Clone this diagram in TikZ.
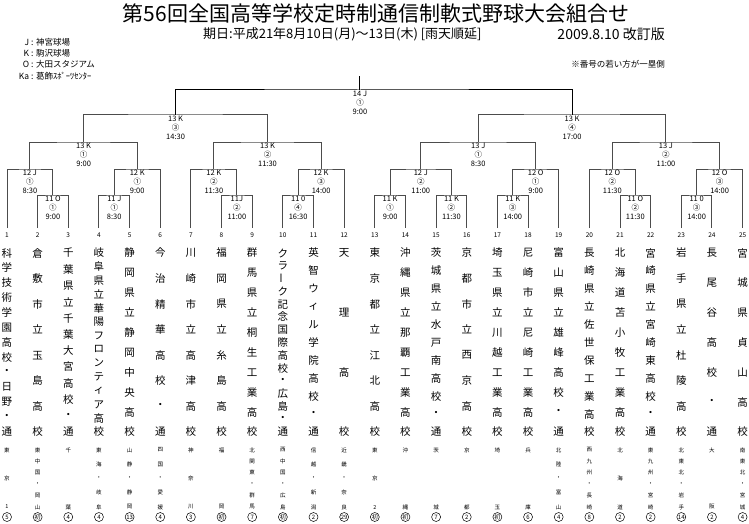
\documentclass[tikz,border=0pt]{standalone}
\usepackage{fontspec}
\usepackage{graphicx}
\setmainfont{Noto Sans CJK JP}
\newcommand\vbarchar{\rotatebox{90}{ー}}
\tikzset{
  br/.style={line width=1pt, draw=black!70},
  mlabel/.style={anchor=north, align=center, font=\fontsize{7.5}{9}\selectfont, inner sep=0pt, yshift=-1pt},
  school/.style={font=\fontsize{10.5}{11}\selectfont, inner sep=0pt},
  region/.style={font=\fontsize{5.5}{6}\selectfont, inner sep=0pt},
  seed/.style={circle, draw, line width=0.5pt, inner sep=0pt, minimum size=9pt, font=\fontsize{6}{6}\selectfont},
  numlab/.style={font=\fontsize{6.5}{7}\selectfont, inner sep=0pt},
  legend/.style={anchor=west, font=\fontsize{8.5}{9}\selectfont, inner sep=0pt},
}
\newcommand\vcol[3]{%
  \foreach \c [count=\k] in {#3} {
    \node[school] (s#1-\k) at ({7+(#1-1)*30.65},{253+(\k-1)*179/(#2-1)}) {\c};
  }}
\newcommand\vreg[3]{%
  \foreach \c [count=\k] in {#3} {
    \node[region] (r#1-\k) at ({7+(#1-1)*30.65},{450+(\k-1)*57/(#2-1)}) {\c};
  }}
\begin{document}
\begin{tikzpicture}[x=1pt,y=-1pt]
\useasboundingbox (0,0) rectangle (749,524);
\fill[white] (0,0) rectangle (749,524);

% header
\node[font=\fontsize{21}{21}\selectfont, inner sep=0pt] (title) at (376,14) {第56回全国高等学校定時制通信制軟式野球大会組合せ};
\node[font=\fontsize{13}{13}\selectfont, anchor=west, inner sep=0pt] (period) at (203,34) {期日:平成21年8月10日(月)～13日(木)\ [雨天順延]};
\node[font=\fontsize{14}{14}\selectfont, anchor=east, inner sep=0pt] (rev) at (665,34) {2009.8.10 改訂版};
\node[legend] (lj) at (12,42) {\makebox[17pt][r]{J} : 神宮球場};
\node[legend] (lk) at (12,53) {\makebox[17pt][r]{K} : 駒沢球場};
\node[legend] (lo) at (12,64) {\makebox[17pt][r]{O} : 大田スタジアム};
\node[legend] (lka) at (12,76) {\makebox[17pt][r]{Ka} : 葛飾ｽﾎﾟｰﾂｾﾝﾀｰ};
\node[font=\fontsize{8.5}{9}\selectfont, anchor=east, inner sep=0pt] (note) at (665,64) {※番号の若い方が一塁側};

% team feet
\foreach \i in {1,...,25} {
  \coordinate (t\i) at ({7+(\i-1)*30.65},228);
  \node[numlab] (n\i) at ({7+(\i-1)*30.65},235) {\i};
}

% round 11
\coordinate (m11a) at (52.975,195);
\coordinate (m11b) at (114.275,195);
\coordinate (m11c) at (236.875,195);
\coordinate (m11d) at (298.175,195);
\coordinate (m11e) at (390.125,195);
\coordinate (m11f) at (451.425,195);
\coordinate (m11g) at (512.725,195);
\coordinate (m11h) at (635.325,195);
\coordinate (m11i) at (696.625,195);
% round 12
\coordinate (m12a) at (29.99,169);
\coordinate (m12b) at (137.26,169);
\coordinate (m12c) at (213.89,169);
\coordinate (m12d) at (321.16,169);
\coordinate (m12e) at (420.78,169);
\coordinate (m12f) at (535.71,169);
\coordinate (m12g) at (612.34,169);
\coordinate (m12h) at (719.61,169);
% quarter
\coordinate (q1) at (83.63,142);
\coordinate (q2) at (267.53,142);
\coordinate (q3) at (478.25,142);
\coordinate (q4) at (665.98,142);
% semi
\coordinate (sm1) at (175.58,115);
\coordinate (sm2) at (572.1,115);
% final
\coordinate (fin) at (359,90);
\coordinate (top) at (359,76);

\draw[br] (t2) |- (m11a) -| (t3);
\draw[br] (t4) |- (m11b) -| (t5);
\draw[br] (t8) |- (m11c) -| (t9);
\draw[br] (t10) |- (m11d) -| (t11);
\draw[br] (t13) |- (m11e) -| (t14);
\draw[br] (t15) |- (m11f) -| (t16);
\draw[br] (t17) |- (m11g) -| (t18);
\draw[br] (t21) |- (m11h) -| (t22);
\draw[br] (t23) |- (m11i) -| (t24);

\draw[br] (t1) |- (m12a) -| (m11a);
\draw[br] (m11b) |- (m12b) -| (t6);
\draw[br] (t7) |- (m12c) -| (m11c);
\draw[br] (m11d) |- (m12d) -| (t12);
\draw[br] (m11e) |- (m12e) -| (m11f);
\draw[br] (m11g) |- (m12f) -| (t19);
\draw[br] (t20) |- (m12g) -| (m11h);
\draw[br] (m11i) |- (m12h) -| (t25);

\draw[br] (m12a) |- (q1) -| (m12b);
\draw[br] (m12c) |- (q2) -| (m12d);
\draw[br] (m12e) |- (q3) -| (m12f);
\draw[br] (m12g) |- (q4) -| (m12h);

\draw[br] (q1) |- (sm1) -| (q2);
\draw[br] (q3) |- (sm2) -| (q4);

\draw[br,draw=black] (sm1) |- (fin) -| (sm2);
\draw[br,draw=black] (fin) -- (top);

% match labels
\node[mlabel] (L11a) at (m11a) {11 O\\①\\9:00};
\node[mlabel] (L11b) at (m11b) {11 J\\①\\8:30};
\node[mlabel] (L11c) at (m11c) {11J\\②\\11:00};
\node[mlabel] (L11d) at (m11d) {11 0\\④\\16:30};
\node[mlabel] (L11e) at (m11e) {11 K\\①\\9:00};
\node[mlabel] (L11f) at (m11f) {11 K\\②\\11:30};
\node[mlabel] (L11g) at (m11g) {11 K\\③\\14:00};
\node[mlabel] (L11h) at (m11h) {11 O\\②\\11:30};
\node[mlabel] (L11i) at (m11i) {11 0\\③\\14:00};
\node[mlabel] (L12a) at (m12a) {12 J\\①\\8:30};
\node[mlabel] (L12b) at (m12b) {12 K\\①\\9:00};
\node[mlabel] (L12c) at (m12c) {12 K\\②\\11:30};
\node[mlabel] (L12d) at (m12d) {12 K\\③\\14:00};
\node[mlabel] (L12e) at (m12e) {12 J\\②\\11:00};
\node[mlabel] (L12f) at (m12f) {12 O\\①\\9:00};
\node[mlabel] (L12g) at (m12g) {12 O\\②\\11:30};
\node[mlabel] (L12h) at (m12h) {12 O\\③\\14:00};
\node[mlabel] (Lq1) at (q1) {13 K\\①\\9:00};
\node[mlabel] (Lq2) at (q2) {13 K\\②\\11:30};
\node[mlabel] (Lq3) at (q3) {13 J\\①\\8:30};
\node[mlabel] (Lq4) at (q4) {13 J\\②\\11:00};
\node[mlabel] (Ls1) at (sm1) {13 K\\③\\14:30};
\node[mlabel] (Ls2) at (sm2) {13 K\\④\\17:00};
\node[mlabel] (Lf) at ([xshift=1pt]fin) {14 J\\①\\9:00};

% school names
\vcol{1}{13}{科,学,技,術,学,園,高,校,・,日,野,・,通}
\vcol{2}{8}{倉,敷,市,立,玉,島,高,校}
\vcol{3}{12}{千,葉,県,立,千,葉,大,宮,高,校,・,通}
\vcol{4}{14}{岐,阜,県,立,華,陽,フ,ロ,ン,テ,ィ,ア,高,校}
\vcol{5}{10}{静,岡,県,立,静,岡,中,央,高,校}
\vcol{6}{8}{今,治,精,華,高,校,・,通}
\vcol{7}{8}{川,崎,市,立,高,津,高,校}
\vcol{8}{8}{福,岡,県,立,糸,島,高,校}
\vcol{9}{10}{群,馬,県,立,桐,生,工,業,高,校}
\vcol{10}{15}{ク,ラ,\vbarchar,ク,記,念,国,際,高,校,・,広,島,・,通}
\vcol{11}{11}{英,智,ウ,ィ,ル,学,院,高,校,・,通}
\vcol{12}{4}{天,理,高,校}
\vcol{13}{8}{東,京,都,立,江,北,高,校}
\vcol{14}{10}{沖,縄,県,立,那,覇,工,業,高,校}
\vcol{15}{11}{茨,城,県,立,水,戸,南,高,校,・,通}
\vcol{16}{8}{京,都,市,立,西,京,高,校}
\vcol{17}{10}{埼,玉,県,立,川,越,工,業,高,校}
\vcol{18}{10}{尼,崎,市,立,尼,崎,工,業,高,校}
\vcol{19}{10}{富,山,県,立,雄,峰,高,校,・,通}
\vcol{20}{11}{長,崎,県,立,佐,世,保,工,業,高,校}
\vcol{21}{10}{北,海,道,苫,小,牧,工,業,高,校}
\vcol{22}{11}{宮,崎,県,立,宮,崎,東,高,校,・,通}
\vcol{23}{8}{岩,手,県,立,杜,陵,高,校}
\vcol{24}{7}{長,尾,谷,高,校,・,通}
\vcol{25}{7}{宮,城,県,貞,山,高,校}

% regions
\vreg{1}{3}{東,京,1}
\vreg{2}{6}{東,中,国,・,岡,山}
\vreg{3}{2}{千,葉}
\vreg{4}{5}{東,海,・,岐,阜}
\vreg{5}{5}{山,静,・,静,岡}
\vreg{6}{5}{四,国,・,愛,媛}
\vreg{7}{3}{神,奈,川}
\vreg{8}{2}{福,岡}
\vreg{9}{6}{北,関,東,・,群,馬}
\vreg{10}{6}{西,中,国,・,広,島}
\vreg{11}{5}{信,越,・,新,潟}
\vreg{12}{5}{近,畿,・,奈,良}
\vreg{13}{3}{東,京,2}
\vreg{14}{2}{沖,縄}
\vreg{15}{2}{茨,城}
\vreg{16}{2}{京,都}
\vreg{17}{2}{埼,玉}
\vreg{18}{2}{兵,庫}
\vreg{19}{5}{北,陸,・,富,山}
\vreg{20}{6}{西,九,州,・,長,崎}
\vreg{21}{3}{北,海,道}
\vreg{22}{6}{東,九,州,・,宮,崎}
\vreg{23}{6}{北,東,北,・,岩,手}
\vreg{24}{2}{大,阪}
\vreg{25}{6}{南,東,北,・,宮,城}

% seeds
\foreach \s [count=\i] in {5,初,4,4,13,4,3,初,7,初,2,29,初,初,7,2,初,6,4,8,2,2,14,2,4} {
  \node[seed] (sd\i) at ({7+(\i-1)*30.65},517) {\s};
}
\end{tikzpicture}
\end{document}
